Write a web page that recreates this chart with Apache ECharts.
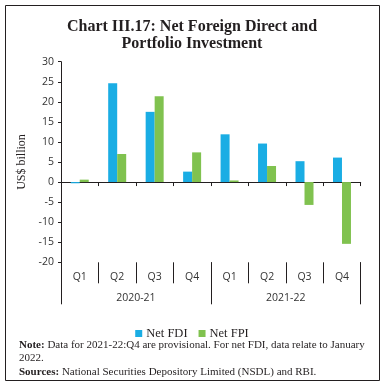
<!DOCTYPE html>
<html><head><meta charset="utf-8">
<script src="https://cdn.jsdelivr.net/npm/echarts@6/dist/echarts.min.js"></script>
<style>html,body{margin:0;padding:0;background:#fff}#c{width:384px;height:386px}</style>
</head><body><div id="c"></div>
<script>
const quarters = ['Q1','Q2','Q3','Q4','Q1','Q2','Q3','Q4'];
const years = ['2020-21','2021-22'];
const netFDI = [-0.3, 24.6, 17.5, 2.6, 11.9, 9.6, 5.2, 6.1];
const netFPI = [0.6, 7.0, 21.4, 7.4, 0.4, 4.0, -5.7, -15.4];
const yTicks = [-20, -15, -10, -5, 0, 5, 10, 15, 20, 25, 30];

const serif = 'Liberation Serif';
const sans = 'Open Sans';
const chart = echarts.init(document.getElementById('c'));
chart.setOption({
  animation: false,
  backgroundColor: '#fff',
  title: {
    text: 'Chart III.17: Net Foreign Direct and\nPortfolio Investment',
    left: 'center', top: 13,
    textStyle: {fontFamily: serif, fontWeight: 'bold', fontSize: 16, lineHeight: 17, color: '#231f20'}
  },
  grid: {left: 61, right: 23.3, top: 61.7, bottom: 123.7},
  legend: {
    data: ['Net FDI', 'Net FPI'], left: 'center', top: 322,
    itemWidth: 7, itemHeight: 7, itemGap: 11, icon: 'rect',
    textStyle: {fontFamily: serif, fontSize: 12.5, color: '#231f20', padding: [0,0,0,-1]}
  },
  xAxis: [
    {type: 'category', data: quarters, position: 'bottom',
     axisLine: {onZero: true, lineStyle: {color: '#231f20', width: 1}},
     axisTick: {show: true, length: 4, inside: false, lineStyle: {color: '#231f20'}},
     axisLabel: {show: false}},
    {type: 'category', data: quarters, position: 'bottom',
     axisLine: {show: false, onZero: false},
     axisTick: {show: true, length: 21, lineStyle: {color: '#231f20'}},
     axisLabel: {margin: 9, fontFamily: sans, fontSize: 10.5, color: '#333'}},
    {type: 'category', data: years, position: 'bottom',
     axisLine: {show: false, onZero: false},
     axisTick: {show: true, length: 42, lineStyle: {color: '#231f20'}},
     axisLabel: {margin: 30, fontFamily: sans, fontSize: 10.5, color: '#333'}}
  ],
  yAxis: {
    type: 'value', min: yTicks[0], max: yTicks[yTicks.length-1], interval: 5,
    name: 'US$ billion', nameLocation: 'middle', nameGap: 29,
    nameTextStyle: {fontFamily: serif, fontSize: 12, color: '#231f20'},
    axisLine: {show: true, lineStyle: {color: '#231f20'}},
    axisTick: {show: true, length: 3, lineStyle: {color: '#231f20'}},
    splitLine: {show: false},
    axisLabel: {margin: 7, fontFamily: sans, fontSize: 10.5, color: '#333'}
  },
  series: [
    {name: 'Net FDI', type: 'bar', xAxisIndex: 0, data: netFDI, barWidth: 9, barGap: '0%', itemStyle: {color: '#1aade4'}},
    {name: 'Net FPI', type: 'bar', xAxisIndex: 0, data: netFPI, barWidth: 9, barGap: '0%', itemStyle: {color: '#80c24f'}}
  ],
  graphic: [
    {type: 'rect', shape: {x: 5.5, y: 5.5, width: 374, height: 375}, style: {fill: 'none', stroke: '#231f20', lineWidth: 1}, silent: true},
    {type: 'text', left: 19, top: 338, style: {
      text: '{b|Note:} Data for 2021-22:Q4 are provisional. For net FDI, data relate to January\n2022.\n{b|Sources:} National Securities Depository Limited (NSDL) and RBI.',
      font: '11px "Liberation Serif"', lineHeight: 13.5, fill: '#231f20',
      rich: {b: {fontWeight: 'bold', fontFamily: serif, fontSize: 11, lineHeight: 13.5}}
    }}
  ]
});
</script></body></html>
